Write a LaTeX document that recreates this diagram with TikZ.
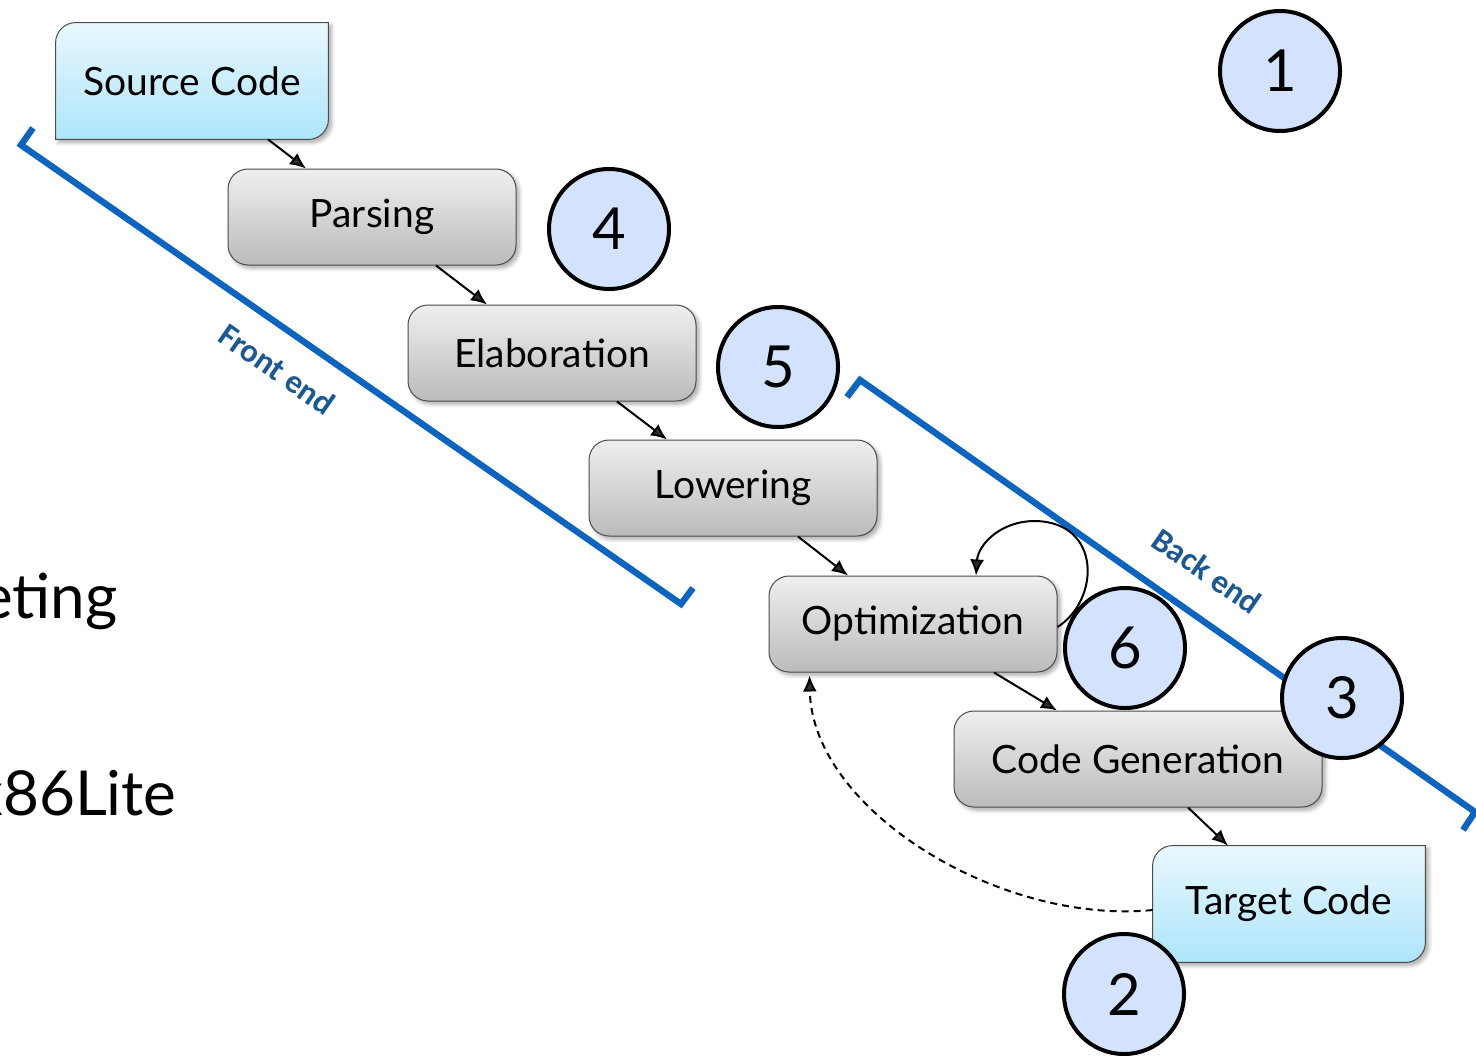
\documentclass[tikz,border=0pt]{standalone}
\usepackage{fontspec}
\setmainfont{Lato}
\newfontfamily\labfont{Carlito}
\usetikzlibrary{arrows.meta,calc,shadows.blur,backgrounds}
\definecolor{blueline}{HTML}{0A64C0}
\definecolor{labelblue}{HTML}{1B5896}
\definecolor{circfill}{HTML}{D3E3FD}
\definecolor{cyantop}{HTML}{E9F8FE}
\definecolor{cyanbot}{HTML}{ADE5FB}
\definecolor{graytop}{HTML}{EFEFEF}
\definecolor{graybot}{HTML}{BBBBBB}
\tikzset{
  boxshadow/.style={blur shadow={shadow xshift=1.5pt,shadow yshift=-1.5pt,shadow blur steps=6,shadow opacity=35}},
  graybox/.style={draw=black!70,line width=0.5pt,rounded corners=10pt,top color=graytop,bottom color=graybot,
    minimum width=144pt,minimum height=48pt,inner sep=0pt,font=\fontsize{19.5}{22}\selectfont,boxshadow},
  endbox/.style={minimum width=136pt,minimum height=58pt,inner sep=0pt,font=\fontsize{19.5}{22}\selectfont},
  endshape/.style={draw=black!70,line width=0.5pt,top color=cyantop,bottom color=cyanbot,boxshadow},
  numcirc/.style={circle,draw=black,line width=2pt,fill=circfill,minimum size=60pt,inner sep=0pt,font=\fontsize{29}{32}\selectfont},
  flow/.style={-{Latex[length=8pt,width=7pt]},line width=1pt},
  bracketline/.style={draw=blueline,line width=3.2pt,miter limit=10},
  bracketlabel/.style={text=labelblue,font=\labfont\bfseries\fontsize{16.5}{18}\selectfont,rotate=-34.8},
  bigtext/.style={font=\fontsize{31}{34}\selectfont,inner sep=0pt}
}
\newcommand{\ioshape}[1]{%
  \path[endshape] ($(#1.north west)+(0,20)$) .. controls ($(#1.north west)+(0,9)$) and ($(#1.north west)+(9,0)$) .. ($(#1.north west)+(20,0)$)
   -- (#1.north east) -- ($(#1.south east)+(0,-20)$) .. controls ($(#1.south east)+(0,-9)$) and ($(#1.south east)+(-9,0)$) .. ($(#1.south east)+(-20,0)$)
   -- (#1.south west) -- cycle;}
\begin{document}
\begin{tikzpicture}[x=0.5pt,y=-0.5pt]
\clip (0,0) rectangle (1476,1055);

% big partial texts
\node[bigtext,anchor=base east] (tgting) at (118,618) {eting};
\node[bigtext,anchor=base east] (xlite) at (177,815) {x86Lite};

% brackets
\coordinate (fa) at (33,128);
\coordinate (fb) at (21,145);
\coordinate (fc) at (681,604);
\coordinate (fd) at (693,588);
\draw[bracketline] (fa) -- (fb) -- (fc) -- (fd);
\node[bracketlabel] (felab) at (277,369) {Front end};

\coordinate (ba) at (847,397);
\coordinate (bb) at (860,380);
\coordinate (bc) at (1475,812);
\coordinate (bd) at (1463,830);
\draw[bracketline] (ba) -- (bb) -- (bc) -- (bd);
\node[bracketlabel] (belab) at (1207,571) {Back end};

% boxes
\node[endbox] (src) at (192,81) {Source Code};
\node[graybox] (pars) at (372,217) {Parsing};
\node[graybox] (elab) at (552,353) {Elaboration};
\node[graybox] (low) at (733,488) {Lowering};
\node[graybox] (opt) at (913,624) {Optimization};
\node[graybox,minimum width=184pt] (cg) at (1138,759) {Code Generation};
\node[endbox] (tgt) at (1289,904) {Target Code};

\begin{pgfonlayer}{background}
\ioshape{src}
\ioshape{tgt}
\end{pgfonlayer}

% arrows
\draw[flow] ($(src.south)+(76,0)$) -- ($(pars.north)+(-66,0)$);
\draw[flow] ($(pars.south)+(64,0)$) -- ($(elab.north)+(-65,0)$);
\draw[flow] ($(elab.south)+(65,0)$) -- ($(low.north)+(-66,0)$);
\draw[flow] ($(low.south)+(65,0)$) -- ($(opt.north)+(-65,0)$);
\draw[flow] ($(opt.south)+(81,0)$) -- ($(cg.north)+(-81,0)$);
\draw[flow] ($(cg.south)+(50,0)$) -- ($(tgt.north)+(-61,0)$);

% self loop
\draw[flow] ($(opt.east)+(0,3)$) .. controls (1100,600) and (1102,522) .. (1035,521)
   .. controls (1000,521) and (978,545) .. ($(opt.north)+(63,0)$);

% dashed feedback
\draw[flow,dash pattern=on 3.5pt off 2.5pt] ($(tgt.west)+(0,6)$) .. controls (1000,925) and (812,810) .. ($(opt.south west)+(41,3)$);

% numbered circles
\node[numcirc] (c1) at (1280,71) {1};
\node[numcirc] (c4) at (609,229) {4};
\node[numcirc] (c5) at (778,367) {5};
\node[numcirc] (c6) at (1125,648) {6};
\node[numcirc] (c3) at (1342,698) {3};
\node[numcirc] (c2) at (1124,994) {2};
\end{tikzpicture}
\end{document}
